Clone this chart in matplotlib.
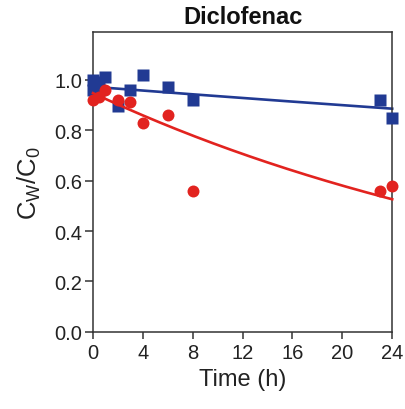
import numpy as np
import matplotlib
matplotlib.use("Agg")
import matplotlib.pyplot as plt

plt.rcParams['font.family'] = ['Liberation Sans', 'DejaVu Sans']
plt.rcParams['mathtext.default'] = 'regular'

# Measured concentration ratios over time
time_blue = [0, 0, 0.5, 0.5, 1, 2, 3, 4, 6, 8, 23, 24]
ratio_blue = [1.00, 0.96, 0.99, 0.96, 1.01, 0.895, 0.96, 1.02, 0.97, 0.92, 0.92, 0.85]

time_red = [0, 0.5, 1, 2, 3, 4, 6, 8, 23, 24]
ratio_red = [0.92, 0.93, 0.96, 0.92, 0.91, 0.83, 0.86, 0.56, 0.56, 0.58]

# First-order decay fits: C/C0 = c0 * exp(-k t)
fit_blue = (0.972, 0.0039)
fit_red = (0.947, 0.0245)

x_ticks = [0, 4, 8, 12, 16, 20, 24]
y_ticks = [0.0, 0.2, 0.4, 0.6, 0.8, 1.0]

blue = '#213A93'
red = '#E2231F'
ink = '#222222'

fig = plt.figure(figsize=(4.06, 4.10), dpi=100)
ax = fig.add_axes([0.229, 0.188, 0.737, 0.732])

t = np.linspace(0, 24, 200)
ax.plot(t, fit_blue[0] * np.exp(-fit_blue[1] * t), color=blue, lw=1.9, zorder=2, clip_on=False)
ax.plot(time_blue, ratio_blue, 's', color=blue, ms=8.8, mec='none', zorder=3, clip_on=False)
ax.plot(t, fit_red[0] * np.exp(-fit_red[1] * t), color=red, lw=1.9, zorder=4, clip_on=False)
ax.plot(time_red, ratio_red, 'o', color=red, ms=8.6, mec='none', zorder=5, clip_on=False)

ax.set_xlim(0, 24)
ax.set_ylim(0, 1.19)
ax.set_xticks(x_ticks)
ax.set_yticks(y_ticks)
ax.set_yticklabels([f'{v:.1f}' for v in y_ticks])

for s in ax.spines.values():
    s.set_color('#333333')
    s.set_linewidth(1.1)

ax.tick_params(axis='both', direction='out', colors='#333333', labelcolor=ink,
               labelsize=14.5, width=1.1)
ax.tick_params(axis='y', length=6, pad=1.5)
ax.tick_params(axis='x', length=5, pad=3)

ax.set_title('Diclofenac', fontsize=17, fontweight='bold', color='#111111', pad=6)
ax.set_xlabel('Time (h)', fontsize=17, color=ink, labelpad=4)
ax.set_ylabel('C$_{W}$/C$_{0}$', fontsize=18.5, color=ink, labelpad=8)

fig.savefig('out.png', dpi=100, facecolor='white')
